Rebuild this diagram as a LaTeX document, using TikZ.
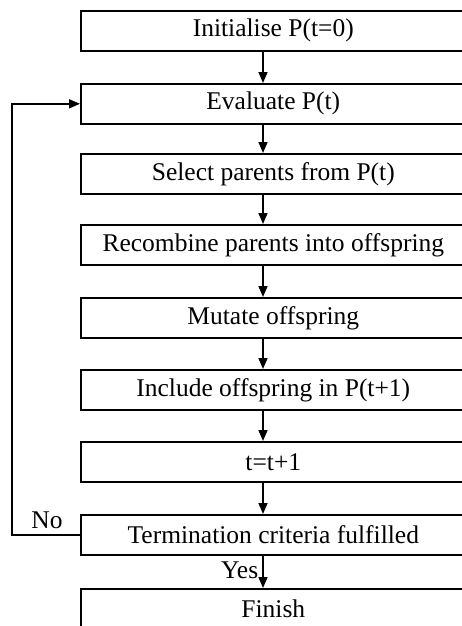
\documentclass[tikz,border=0pt]{standalone}
\usepackage{fontspec}
\setmainfont{Liberation Serif}
\usetikzlibrary{arrows.meta}
\begin{document}
\begin{tikzpicture}[x=1pt,y=-1pt,line width=1.6pt,
  box/.style={draw,minimum width=385pt,minimum height=40pt,inner sep=0pt,anchor=north west,font=\fontsize{25.5}{29}\selectfont},
  arr/.style={-{Triangle[length=11pt,width=9pt]}},
  lbl/.style={font=\fontsize{25.5}{29}\selectfont,inner sep=0pt,anchor=base}]
\useasboundingbox (0,0) rectangle (461,626);
\node[box] (b1) at (80,10) {Initialise P(t=0)};
\node[box] (b2) at (80,83) {Evaluate P(t)};
\node[box] (b3) at (80,153) {Select parents from P(t)};
\node[box] (b4) at (80,224) {Recombine parents into offspring};
\node[box] (b5) at (80,297) {Mutate offspring};
\node[box] (b6) at (80,369) {Include offspring in P(t+1)};
\node[box] (b7) at (80,441) {t=t+1};
\node[box] (b8) at (80,514) {Termination criteria fulfilled};
\node[box] (b9) at (80,588) {Finish};
\coordinate (ax) at (263,0);
\coordinate (fb) at (12,0);
\foreach \a/\b in {b1/b2,b2/b3,b3/b4,b4/b5,b5/b6,b6/b7,b7/b8,b8/b9}
  \draw[arr] (\a.south -| ax) -- (\b.north -| ax);
\draw[arr] (b8.west) -- (b8.west -| fb) |- (b2.west);
\node[lbl] (no) at (47,528) {No};
\node[lbl,anchor=base east] (yes) at (259,578) {Yes};
\end{tikzpicture}
\end{document}
